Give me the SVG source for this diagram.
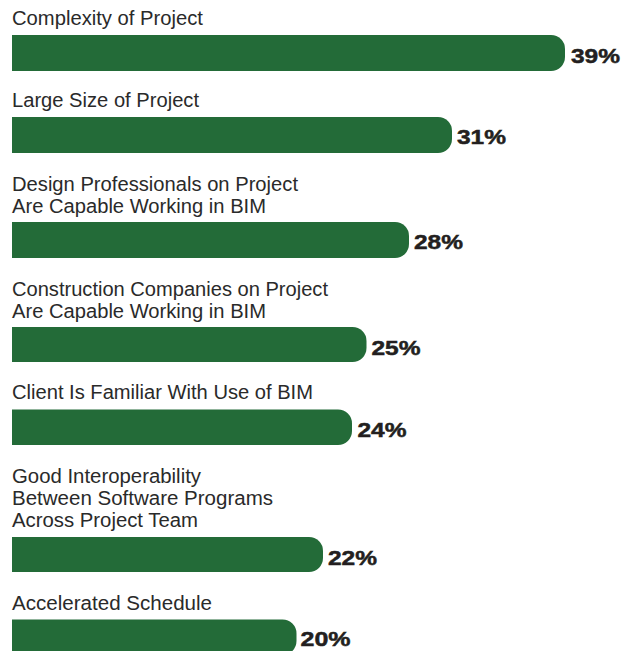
<svg xmlns="http://www.w3.org/2000/svg" width="630" height="651" viewBox="0 0 630 651">
<style>
.lbl{font-family:"Liberation Sans Narrow","Liberation Sans",Arial,sans-serif;font-size:20px;fill:#2a2a2a}
.pct{font-family:"Liberation Sans",Arial,sans-serif;font-size:21px;font-weight:bold;fill:#231f20;stroke:#231f20;stroke-width:0.5}
.bar{fill:#236b38}
</style>
<rect width="630" height="651" fill="#ffffff"/>
<g id="bar1">
<text class="lbl" x="12" y="25" textLength="191" lengthAdjust="spacingAndGlyphs">Complexity of Project</text>
<path class="bar" d="M12,35 H551 A14,14 0 0 1 565,49 V57 A14,14 0 0 1 551,71 H12 Z"/>
<text class="pct" x="571" y="63" textLength="49" lengthAdjust="spacingAndGlyphs">39%</text>
</g>
<g id="bar2">
<text class="lbl" x="12" y="107" textLength="187" lengthAdjust="spacingAndGlyphs">Large Size of Project</text>
<path class="bar" d="M12,117 H438 A14,14 0 0 1 452,131 V139 A14,14 0 0 1 438,153 H12 Z"/>
<text class="pct" x="457" y="144" textLength="49" lengthAdjust="spacingAndGlyphs">31%</text>
</g>
<g id="bar3">
<text class="lbl" x="12" y="190.5" textLength="286" lengthAdjust="spacingAndGlyphs">Design Professionals on Project</text>
<text class="lbl" x="12" y="212.5" textLength="254" lengthAdjust="spacingAndGlyphs">Are Capable Working in BIM</text>
<path class="bar" d="M12,222 H395 A14,14 0 0 1 409,236 V244 A14,14 0 0 1 395,258 H12 Z"/>
<text class="pct" x="414" y="249" textLength="49" lengthAdjust="spacingAndGlyphs">28%</text>
</g>
<g id="bar4">
<text class="lbl" x="12" y="296" textLength="316" lengthAdjust="spacingAndGlyphs">Construction Companies on Project</text>
<text class="lbl" x="12" y="318" textLength="254" lengthAdjust="spacingAndGlyphs">Are Capable Working in BIM</text>
<path class="bar" d="M12,327 H352.5 A14,14 0 0 1 366.5,341 V348 A14,14 0 0 1 352.5,362 H12 Z"/>
<text class="pct" x="371.5" y="354.5" textLength="49" lengthAdjust="spacingAndGlyphs">25%</text>
</g>
<g id="bar5">
<text class="lbl" x="12" y="399" textLength="301" lengthAdjust="spacingAndGlyphs">Client Is Familiar With Use of BIM</text>
<path class="bar" d="M12,409.5 H338 A14,14 0 0 1 352,423.5 V431 A14,14 0 0 1 338,445 H12 Z"/>
<text class="pct" x="357.5" y="437" textLength="49" lengthAdjust="spacingAndGlyphs">24%</text>
</g>
<g id="bar6">
<text class="lbl" x="12" y="483" textLength="189" lengthAdjust="spacingAndGlyphs">Good Interoperability</text>
<text class="lbl" x="12" y="505" textLength="261" lengthAdjust="spacingAndGlyphs">Between Software Programs</text>
<text class="lbl" x="12" y="527" textLength="186" lengthAdjust="spacingAndGlyphs">Across Project Team</text>
<path class="bar" d="M12,537 H309 A14,14 0 0 1 323,551 V558 A14,14 0 0 1 309,572 H12 Z"/>
<text class="pct" x="328" y="564.5" textLength="49" lengthAdjust="spacingAndGlyphs">22%</text>
</g>
<g id="bar7">
<text class="lbl" x="12" y="609.5" textLength="200" lengthAdjust="spacingAndGlyphs">Accelerated Schedule</text>
<path class="bar" d="M12,619.5 H282.5 A14,14 0 0 1 296.5,633.5 V641 A14,14 0 0 1 282.5,655 H12 Z"/>
<text class="pct" x="300.5" y="645.5" textLength="50" lengthAdjust="spacingAndGlyphs">20%</text>
</g>
<g id="connectors"/>
</svg>
